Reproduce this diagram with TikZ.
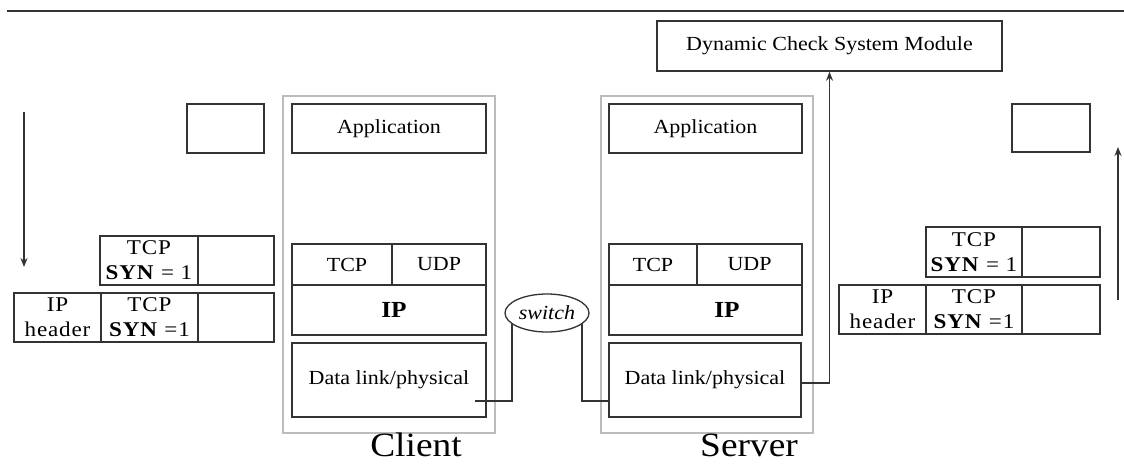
\documentclass[tikz,border=0pt]{standalone}
\usepackage{fontspec}
\setmainfont{Liberation Serif}[FakeStretch=1.1]
\usetikzlibrary{arrows.meta,shapes.geometric}
\definecolor{ink}{HTML}{333333}
\definecolor{frame}{HTML}{BCBCBC}
\begin{document}
\begin{tikzpicture}[x=1pt,y=-1pt,
  cell/.style n args={2}{draw=ink, line width=1.5pt, inner sep=0pt,
    minimum width=#1, minimum height=#2, align=center,
    font=\fontsize{20}{25}\selectfont},
  pkt/.style n args={2}{cell={#1}{#2},
    font=\fontsize{21}{25}\selectfont\addfontfeature{LetterSpace=4}},
  host/.style={draw=frame, line width=2pt, inner sep=0pt,
    minimum width=212, minimum height=337},
  hostname/.style={anchor=base, inner sep=0pt, font=\fontsize{34}{34}\selectfont},
  lbl/.style={inner sep=0pt, font=\fontsize{20}{22}\selectfont},
  wire/.style={draw=ink, line width=1.5pt},
  flow/.style={wire, -{Stealth[length=9pt,width=7pt]}}
]
\useasboundingbox[fill=white] (0,0) rectangle (1124,464);

% rule across the top
\draw[ink, line width=1.5pt] (7,11) -- (1124,11);

% ---------- client side ----------
\node[host] (client) at (389,264.5) {};
\node[cell={194}{49}] (capp) at (389,128.5) {Application};
\node[cell={100}{41}] (ctcp) at (342,264.5) {};
\node[lbl] at (347,264.5) {TCP};
\node[cell={94}{41}]  (cudp) at (439,264.5) {UDP};
\node[cell={194}{50}] (cip)  at (389,310) {};
\node[lbl, font=\fontsize{23}{25}\selectfont\bfseries] at (394,310) {IP};
\node[cell={194}{74}] (cdl)  at (389,380) {Data link/physical};
\node[hostname] (clientname) at (416,456) {Client};

% outgoing packet, client side
\node[cell={77}{49}] (cbuf) at (225.5,128.5) {};
\node[pkt={98}{49}] (ctcpseg) at (149,260.5) {TCP\\\textbf{SYN} = 1};
\node[pkt={76}{49}] (cdata1)  at (236,260.5) {};
\node[pkt={87}{49}] (ciph)    at (57.5,317.5) {IP\\header};
\node[pkt={97}{49}] (ctcpseg2) at (149.5,317.5) {TCP\\\textbf{SYN} =1};
\node[pkt={76}{49}] (cdata2)  at (236,317.5) {};

\coordinate (downtop) at (24,112);
\coordinate (downbot) at (24,267);
\draw[flow] (downtop) -- (downbot);

% ---------- switch ----------
\node[ellipse, draw=ink, line width=1.3pt, inner sep=0pt,
  minimum width=84, minimum height=38,
  font=\fontsize{20}{22}\selectfont\itshape] (sw) at (547,313) {switch};

% ---------- server side ----------
\node[host] (server) at (707,264.5) {};
\node[cell={193}{49}] (sapp) at (705.5,128.5) {Application};
\node[cell={88}{41}]  (stcp) at (653,264.5) {TCP};
\node[cell={105}{41}] (sudp) at (749.5,264.5) {UDP};
\node[cell={193}{50}] (sip)  at (705.5,310) {};
\node[lbl, font=\fontsize{23}{25}\selectfont\bfseries] at (727,310) {IP};
\node[cell={192}{74}] (sdl)  at (705,380) {Data link/physical};
\node[hostname] (servername) at (749,456) {Server};

\node[cell={345}{50}] (dcs) at (829.5,46) {Dynamic Check System Module};

% incoming packet, server side
\node[cell={78}{48}] (sbuf) at (1051,128) {};
\node[pkt={96}{50}] (stcpseg) at (974,252) {TCP\\\textbf{SYN} = 1};
\node[pkt={78}{50}] (sdata1)  at (1061,252) {};
\node[pkt={87}{49}] (siph)    at (882.5,309.5) {IP\\header};
\node[pkt={96}{49}] (stcpseg2) at (974,309.5) {TCP\\\textbf{SYN} =1};
\node[pkt={78}{49}] (sdata2)  at (1061,309.5) {};

\coordinate (upbot) at (1118,300);
\coordinate (uptop) at (1118,147);
\draw[flow] (upbot) -- (uptop);

% ---------- links ----------
\coordinate (cport) at (475,401);
\coordinate (sport) at (609,401);
\draw[wire] (cport) -| (sw.198);
\draw[wire] (sw.342) |- (sport);
\draw[flow] ([yshift=-3pt]sdl.east) -| (dcs.south);
\end{tikzpicture}
\end{document}
